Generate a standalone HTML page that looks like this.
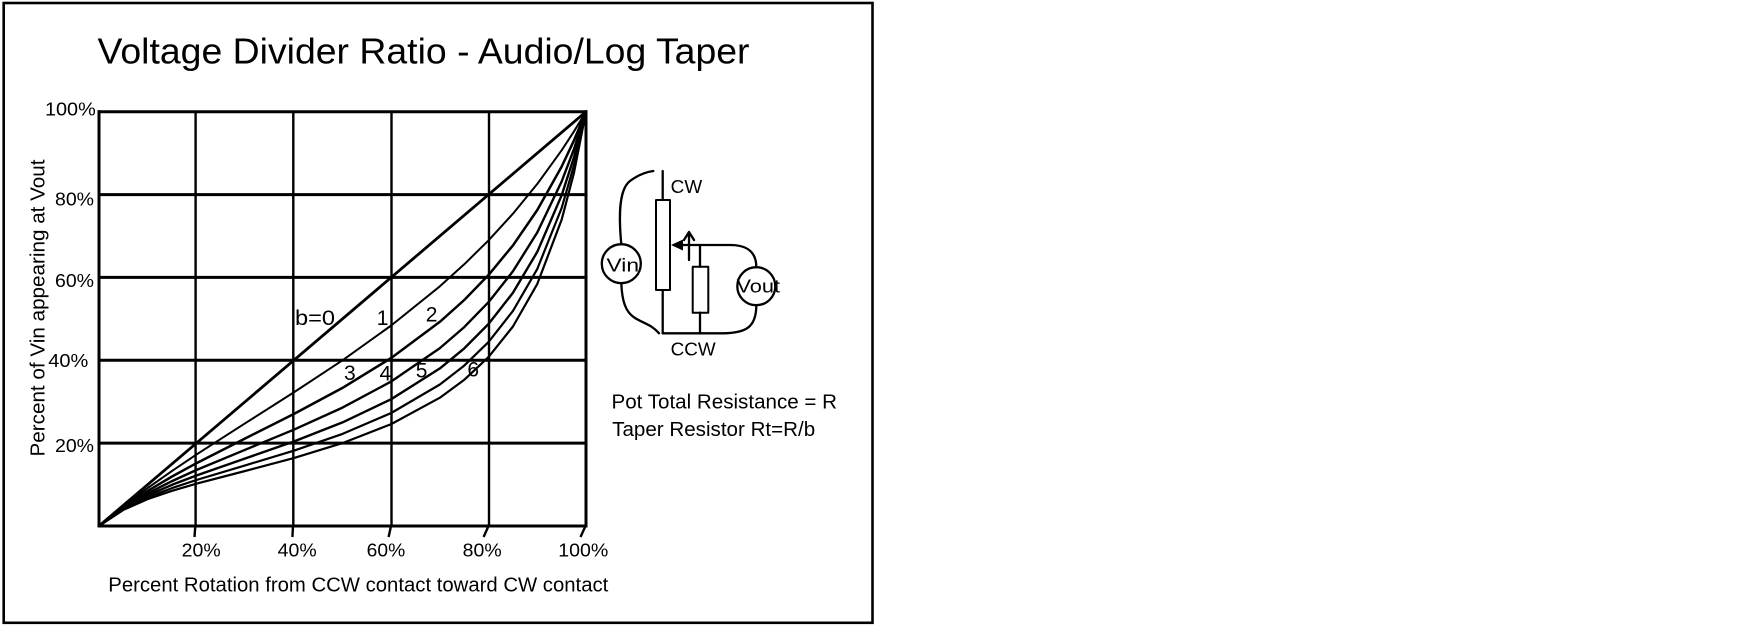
<!DOCTYPE html>
<html>
<head>
<meta charset="utf-8">
<style>
  html, body { margin: 0; padding: 0; background: #fff; }
  body { width: 1750px; height: 628px; overflow: hidden; }
  svg { display: block; }
  text { font-family: "Liberation Sans", Arial, sans-serif; fill: #000; }
</style>
</head>
<body>
<svg width="1750" height="628" viewBox="0 0 1750 628" xmlns="http://www.w3.org/2000/svg">
  <rect x="0" y="0" width="1750" height="628" fill="#fff"/>
  <!-- outer frame -->
  <rect x="3.7" y="3" width="868.8" height="619.8" fill="none" stroke="#000" stroke-width="2.6"/>

  <!-- title -->
  <text x="97.5" y="63.3" font-size="36.5" textLength="652" lengthAdjust="spacingAndGlyphs">Voltage Divider Ratio - Audio/Log Taper</text>

  <!-- grid -->
  <g stroke="#000" stroke-width="3" fill="none">
    <line x1="97.5" y1="111.7" x2="587.5" y2="111.7"/>
    <line x1="99" y1="194.6" x2="586" y2="194.6"/>
    <line x1="99" y1="277.4" x2="586" y2="277.4"/>
    <line x1="99" y1="360.3" x2="586" y2="360.3"/>
    <line x1="99" y1="443.1" x2="586" y2="443.1"/>
    <line x1="97.5" y1="526" x2="587.5" y2="526"/>
    <line x1="99" y1="110.2" x2="99" y2="527.5"/>
    <line x1="586" y1="110.2" x2="586" y2="527"/>
  </g>
  <g stroke="#000" stroke-width="2.4" fill="none">
    <line x1="195.6" y1="111.7" x2="195.6" y2="526"/>
    <line x1="293.3" y1="111.7" x2="293.3" y2="526"/>
    <line x1="391.5" y1="111.7" x2="391.5" y2="526"/>
    <line x1="489" y1="111.7" x2="489" y2="526"/>
    <!-- ticks below axis -->
    <line x1="195.3" y1="526" x2="194.5" y2="537"/>
    <line x1="293" y1="526" x2="292.4" y2="537"/>
    <line x1="391" y1="526" x2="388.6" y2="537"/>
    <line x1="488.5" y1="526" x2="483.6" y2="537"/>
    <line x1="585.5" y1="526" x2="580.5" y2="537"/>
  </g>

  <!-- curves -->
  <g stroke="#000" fill="none" stroke-linejoin="round" stroke-linecap="round">
    <line x1="99" y1="526" x2="586" y2="111.7" stroke-width="2.8"/>
    <polyline stroke-width="2" points="99,526 123.35,506.2 147.7,488.0 172.05,470.9 196.4,454.6 245.1,423.3 293.8,392.4 342.5,360.3 391.2,325.5 439.9,286.3 464.25,264.3 488.6,240.3 512.95,213.7 537.3,183.9 561.65,150.3 573.8,131.7 586,111.7"/>
    <polyline stroke-width="2.5" points="99,526 123.35,507.1 147.7,490.9 172.05,476.5 196.4,463.2 245.1,438.5 293.8,414.0 342.5,387.9 391.2,358.0 439.9,321.8 464.25,300.0 488.6,274.9 512.95,245.4 537.3,210.0 561.65,166.6 573.8,140.8 586,111.7"/>
    <polyline stroke-width="2.4" points="99,526 123.35,507.9 147.7,493.4 172.05,481.1 196.4,470.0 245.1,449.8 293.8,429.7 342.5,407.6 391.2,381.5 439.9,348.1 464.25,327.1 488.6,302.1 512.95,271.3 537.3,232.4 561.65,181.5 573.8,149.6 586,111.7"/>
    <polyline stroke-width="2.4" points="99,526 123.35,508.6 147.7,495.5 172.05,484.8 196.4,475.5 245.1,458.5 293.8,441.5 342.5,422.4 391.2,399.2 439.9,368.4 464.25,348.4 488.6,323.9 512.95,292.8 537.3,251.8 561.65,195.3 573.8,157.9 586,111.7"/>
    <polyline stroke-width="2.2" points="99,526 123.35,509.3 147.7,497.4 172.05,488.1 196.4,480.0 245.1,465.4 293.8,450.7 342.5,433.9 391.2,413.0 439.9,384.5 464.25,365.6 488.6,341.9 512.95,310.9 537.3,268.9 561.65,208.0 573.8,165.9 586,111.7"/>
    <polyline stroke-width="2.2" points="99,526 123.35,509.9 147.7,499.1 172.05,490.8 196.4,483.7 245.1,471.0 293.8,458.1 342.5,443.1 391.2,424.1 439.9,397.7 464.25,379.8 488.6,356.9 512.95,326.5 537.3,283.9 561.65,219.7 573.8,173.6 586,111.7"/>
  </g>

  <!-- curve labels -->
  <g font-size="21">
    <text x="295" y="325" textLength="40" lengthAdjust="spacingAndGlyphs">b=0</text>
    <text x="376.7" y="325">1</text>
    <text x="425.8" y="321.7">2</text>
    <text x="344" y="380">3</text>
    <text x="379.5" y="380.7">4</text>
    <text x="415.8" y="377.3">5</text>
    <text x="467.4" y="376.7">6</text>
  </g>

  <!-- y tick labels -->
  <g font-size="18">
    <text x="45" y="115.5" textLength="50.7" lengthAdjust="spacingAndGlyphs">100%</text>
    <text x="55" y="205.5" textLength="39" lengthAdjust="spacingAndGlyphs">80%</text>
    <text x="55" y="287" textLength="39" lengthAdjust="spacingAndGlyphs">60%</text>
    <text x="48.3" y="367" textLength="40" lengthAdjust="spacingAndGlyphs">40%</text>
    <text x="55" y="452" textLength="39" lengthAdjust="spacingAndGlyphs">20%</text>
  </g>

  <!-- x tick labels -->
  <g font-size="18">
    <text x="181.7" y="556.5" textLength="39" lengthAdjust="spacingAndGlyphs">20%</text>
    <text x="277.7" y="556.5" textLength="39" lengthAdjust="spacingAndGlyphs">40%</text>
    <text x="366.7" y="556.5" textLength="38.5" lengthAdjust="spacingAndGlyphs">60%</text>
    <text x="462.7" y="556.5" textLength="39" lengthAdjust="spacingAndGlyphs">80%</text>
    <text x="558.3" y="556.5" textLength="50" lengthAdjust="spacingAndGlyphs">100%</text>
  </g>

  <!-- axis titles -->
  <text x="108.3" y="591.5" font-size="20" textLength="500" lengthAdjust="spacingAndGlyphs">Percent Rotation from CCW contact toward CW contact</text>
  <text transform="rotate(-90)" x="-456.5" y="44.5" font-size="20.5" textLength="297" lengthAdjust="spacingAndGlyphs">Percent of Vin appearing at Vout</text>

  <!-- circuit -->
  <g stroke="#000" stroke-width="2.3" fill="none" stroke-linecap="round" stroke-linejoin="round">
    <path d="M662.7,171 V200 M662.7,290 V333.3"/>
    <rect x="656" y="200" width="14" height="90" stroke-width="2"/>
    <path d="M674,245 H730 C745,245 756.3,250 756.3,267.2"/>
    <path d="M689,260 V232 M684,240 L689,232 L694,240"/>
    <path d="M700,245 V266.7 M700,312.7 V333.3"/>
    <rect x="692.7" y="266.7" width="15.6" height="46" stroke-width="2"/>
    <path d="M662.7,333.3 H723 C745,333 756.3,328 756.3,305.2"/>
    <path d="M621.3,244.2 C619,220 618,190 630,181 C638,175 646,172 653.3,171"/>
    <path d="M621.3,283.2 C622,300 625,312 635,318 C645,324 652,325 659,333.3"/>
    <circle cx="621.3" cy="263.7" r="19.5"/>
    <circle cx="756.3" cy="286.2" r="19"/>
  </g>
  <polygon points="671,245 683,239.5 683,250.5" fill="#000"/>

  <g font-size="18.5">
    <text x="670.7" y="193" textLength="31.5" lengthAdjust="spacingAndGlyphs">CW</text>
    <text x="670.7" y="355.5" textLength="45" lengthAdjust="spacingAndGlyphs">CCW</text>
    <text x="606.5" y="271.7" textLength="32.5" lengthAdjust="spacingAndGlyphs">Vin</text>
    <text x="736.5" y="292.3" textLength="43.5" lengthAdjust="spacingAndGlyphs">Vout</text>
  </g>

  <g font-size="20">
    <text x="611.5" y="408.5" textLength="225.5" lengthAdjust="spacingAndGlyphs">Pot Total Resistance = R</text>
    <text x="612.2" y="436" textLength="203" lengthAdjust="spacingAndGlyphs">Taper Resistor Rt=R/b</text>
  </g>
</svg>
</body>
</html>
